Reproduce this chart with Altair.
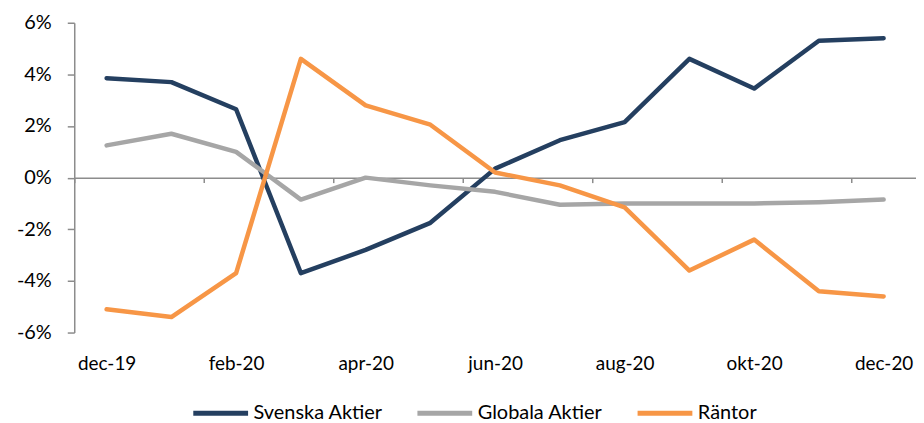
import json
import altair as alt
import pandas as pd

months = ["dec-19", "jan-20", "feb-20", "mar-20", "apr-20", "maj-20", "jun-20",
          "jul-20", "aug-20", "sep-20", "okt-20", "nov-20", "dec-20"]
series_names = ["Svenska Aktier", "Globala Aktier", "Räntor"]
svenska = [3.85, 3.7, 2.65, -3.7, -2.8, -1.75, 0.35, 1.45, 2.15, 4.6, 3.45, 5.3, 5.4]
globala = [1.25, 1.7, 1.0, -0.85, 0.0, -0.3, -0.55, -1.05, -1.0, -1.0, -1.0, -0.95, -0.85]
rantor = [-5.1, -5.4, -3.7, 4.6, 2.8, 2.05, 0.2, -0.3, -1.15, -3.6, -2.4, -4.4, -4.6]
colors = ["#243F60", "#A6A6A6", "#F79646"]
y_ticks = [-6, -4, -2, 0, 2, 4, 6]
label_idx = [0, 2, 4, 6, 8, 10, 12]
tick_idx = [-0.5, 1.5, 3.5, 5.5, 7.5, 9.5, 11.5]

rows = []
for name, vals in zip(series_names, [svenska, globala, rantor]):
    for i, (m, v) in enumerate(zip(months, vals)):
        rows.append({"idx": i, "month": m, "serie": name, "value": v})
df = pd.DataFrame(rows)

FONT = "Lato"
W, H = 845, 311
axis_gray = "#8C8C8C"

xscale = alt.Scale(domain=[-0.5, 12.5], nice=False, zero=False)
yscale = alt.Scale(domain=[-6, 6], nice=False)

yaxis = alt.Axis(values=y_ticks, labelExpr="datum.value + '%'", grid=False,
                 domain=True, domainColor=axis_gray, domainWidth=1.5,
                 ticks=True, tickColor=axis_gray, tickWidth=1.5, tickSize=7,
                 labelPadding=16, labelFont=FONT, labelFontSize=20,
                 labelColor="#000000", title=None)

label_axis = alt.Axis(orient="bottom", values=label_idx,
                      labelExpr=json.dumps(months) + "[datum.value]",
                      grid=False, domain=False, ticks=False, labelPadding=22,
                      labelFont=FONT, labelFontSize=19, labelColor="#000000",
                      title=None)

tick_axis = alt.Axis(orient="bottom", values=tick_idx, labels=False, grid=False,
                     domain=True, domainColor=axis_gray, domainWidth=1.5,
                     ticks=True, tickColor=axis_gray, tickWidth=1.5, tickSize=5,
                     offset=-H / 2, title=None, zindex=0)

color = alt.Color(
    "serie:N",
    scale=alt.Scale(domain=series_names, range=colors),
    sort=series_names,
    legend=alt.Legend(orient="none", legendX=117, legendY=362,
                      direction="horizontal", title=None, symbolType="stroke",
                      symbolSize=3025, symbolStrokeWidth=5, labelFontSize=20,
                      labelFont=FONT, labelOffset=3, columnPadding=24,
                      padding=0, labelColor="#000000"),
)

lines = alt.Chart(df).mark_line(strokeWidth=4.5, strokeCap="round",
                                strokeJoin="round").encode(
    x=alt.X("idx:Q", scale=xscale, axis=label_axis),
    y=alt.Y("value:Q", scale=yscale, axis=yaxis),
    color=color,
    detail="serie:N",
)

ticks_layer = alt.Chart(df).mark_line(opacity=0).encode(
    x=alt.X("idx:Q", scale=xscale, axis=tick_axis),
    y=alt.Y("value:Q", scale=yscale, axis=yaxis),
    detail="serie:N",
)

chart = alt.layer(ticks_layer, lines).resolve_axis(x="independent").properties(
    width=W, height=H, autosize="none",
    padding={"left": 66.5, "top": 14, "right": 0, "bottom": 90},
).configure_view(stroke=None)

chart.save("out.html", embed_options={"renderer": "svg", "actions": False})
